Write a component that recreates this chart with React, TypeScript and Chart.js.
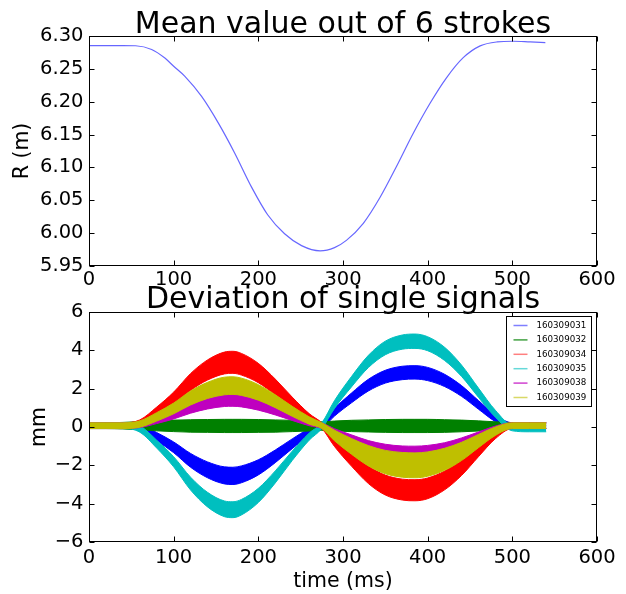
import React, { useEffect, useRef } from "react";
import { Chart, registerables } from "chart.js";
Chart.register(...registerables);

const FONT = "'DejaVu Sans', sans-serif";

// ---- top panel: mean value ----
const meanTime = [0, 20, 40, 55, 74, 90, 100, 113, 133, 153, 172, 192, 211, 231, 251, 273, 290, 304, 324, 344, 363, 383, 403, 422, 442, 462, 482, 501, 521, 539];
const meanR = [6.2855, 6.2855, 6.2855, 6.2852, 6.2795, 6.266, 6.254, 6.239, 6.208, 6.167, 6.122, 6.07, 6.028, 5.999, 5.981, 5.973, 5.978, 5.989, 6.015, 6.055, 6.101, 6.152, 6.198, 6.236, 6.267, 6.285, 6.291, 6.292, 6.291, 6.29];
const meanTicks = [5.95, 6.0, 6.05, 6.1, 6.15, 6.2, 6.25, 6.3];

// ---- bottom panel: deviations (envelopes of each signal band) ----
const devTime = [0, 20, 40, 60, 80, 100, 120, 140, 160, 170, 180, 200, 220, 240, 260, 275, 290, 310, 330, 350, 370, 385, 400, 420, 440, 460, 480, 500, 520, 540];
const blueLow = [-0.08, -0.08, -0.08, -0.2, -0.72, -1.34, -2.1, -2.65, -2.97, -3.0, -2.91, -2.5, -1.86, -1.13, -0.46, -0.08, 0.57, 1.26, 1.88, 2.29, 2.47, 2.5, 2.42, 2.11, 1.6, 0.93, 0.28, -0.08, -0.08, -0.08];
const blueHigh = [0.22, 0.22, 0.22, 0.13, -0.29, -0.78, -1.38, -1.82, -2.08, -2.1, -2.03, -1.71, -1.2, -0.62, -0.08, 0.22, 0.97, 1.77, 2.49, 2.96, 3.17, 3.2, 3.11, 2.75, 2.16, 1.38, 0.64, 0.22, 0.22, 0.22];
const greenLow = [-0.08, -0.08, -0.1, -0.14, -0.2, -0.24, -0.27, -0.28, -0.29, -0.29, -0.29, -0.28, -0.27, -0.24, -0.21, -0.17, -0.21, -0.24, -0.26, -0.28, -0.29, -0.29, -0.29, -0.28, -0.25, -0.21, -0.15, -0.1, -0.08, -0.08];
const greenHigh = [0.22, 0.22, 0.24, 0.28, 0.33, 0.36, 0.38, 0.39, 0.4, 0.4, 0.4, 0.39, 0.37, 0.35, 0.31, 0.27, 0.31, 0.35, 0.37, 0.39, 0.4, 0.4, 0.4, 0.38, 0.36, 0.32, 0.27, 0.23, 0.22, 0.22];
const redLow = [-0.08, -0.08, -0.08, 0.04, 0.55, 1.16, 1.91, 2.45, 2.77, 2.8, 2.71, 2.31, 1.68, 0.96, 0.29, -0.08, -1.02, -2.04, -2.95, -3.55, -3.81, -3.85, -3.74, -3.28, -2.53, -1.55, -0.61, -0.08, -0.08, -0.08];
const redHigh = [0.22, 0.22, 0.22, 0.37, 1.04, 1.82, 2.79, 3.5, 3.91, 3.95, 3.84, 3.32, 2.5, 1.56, 0.7, 0.22, -0.52, -1.32, -2.04, -2.51, -2.72, -2.75, -2.66, -2.3, -1.71, -0.94, -0.2, 0.22, 0.22, 0.22];
const cyanLow = [-0.08, -0.08, -0.08, -0.27, -1.1, -2.08, -3.29, -4.17, -4.68, -4.73, -4.59, -3.94, -2.92, -1.75, -0.69, -0.08, 0.97, 2.09, 3.1, 3.77, 4.06, 4.1, 3.98, 3.47, 2.64, 1.55, 0.51, -0.2, -0.25, -0.25];
const cyanHigh = [0.22, 0.22, 0.22, 0.06, -0.69, -1.55, -2.62, -3.41, -3.86, -3.9, -3.78, -3.2, -2.29, -1.26, -0.32, 0.22, 1.38, 2.63, 3.74, 4.48, 4.8, 4.85, 4.71, 4.16, 3.23, 2.03, 0.87, 0.1, 0.08, 0.08];
const magentaLow = [-0.08, -0.08, -0.08, -0.03, 0.18, 0.42, 0.72, 0.94, 1.07, 1.08, 1.05, 0.88, 0.63, 0.34, 0.07, -0.08, -0.51, -0.97, -1.39, -1.66, -1.78, -1.8, -1.75, -1.54, -1.2, -0.75, -0.32, -0.08, -0.08, -0.08];
const magentaHigh = [0.22, 0.22, 0.22, 0.28, 0.56, 0.89, 1.3, 1.59, 1.76, 1.78, 1.73, 1.51, 1.17, 0.78, 0.42, 0.22, -0.09, -0.41, -0.71, -0.9, -0.99, -1.0, -0.96, -0.82, -0.57, -0.26, 0.05, 0.22, 0.22, 0.22];
const yellowLow = [-0.08, -0.08, -0.08, -0.01, 0.31, 0.69, 1.15, 1.49, 1.68, 1.7, 1.65, 1.4, 1.01, 0.56, 0.15, -0.08, -0.72, -1.42, -2.03, -2.44, -2.62, -2.65, -2.57, -2.26, -1.75, -1.08, -0.44, -0.08, -0.08, -0.08];
const yellowHigh = [0.22, 0.22, 0.22, 0.32, 0.75, 1.25, 1.88, 2.33, 2.6, 2.62, 2.55, 2.21, 1.68, 1.08, 0.53, 0.22, -0.17, -0.6, -0.97, -1.22, -1.33, -1.35, -1.3, -1.11, -0.8, -0.39, 0.0, 0.22, 0.22, 0.22];

const seriesNames = ["160309031", "160309032", "160309034", "160309035", "160309038", "160309039"];
const seriesColors = ["#0000ff", "#008000", "#ff0000", "#00bfbf", "#bf00bf", "#bfbf00"];
const legendColors = ["rgba(0,0,255,0.5)", "rgba(0,128,0,0.75)", "rgba(255,0,0,0.5)", "rgba(0,191,191,0.6)", "rgba(191,0,191,0.75)", "rgba(191,191,0,0.6)"];
const bandLows = [blueLow, greenLow, redLow, cyanLow, magentaLow, yellowLow];
const bandHighs = [blueHigh, greenHigh, redHigh, cyanHigh, magentaHigh, yellowHigh];
const devTicks = [-6, -4, -2, 0, 2, 4, 6];
const timeTicks = [0, 100, 200, 300, 400, 500, 600];

const pts = (xs: number[], ys: number[]) => xs.map((x, i) => ({ x, y: ys[i] }));

const framePlugin = {
  id: "frameTicks",
  afterDatasetsDraw(chart: any) {
    const { ctx, chartArea: a, scales } = chart;
    const L = Math.round(a.left) + 0.5;
    const R = Math.round(a.right) - 0.5;
    const T = Math.round(a.top) + 0.5;
    const B = Math.round(a.bottom) - 0.5;
    const len = 5;
    ctx.save();
    ctx.strokeStyle = "#000";
    ctx.lineWidth = 1;
    ctx.beginPath();
    for (const t of scales.x.ticks) {
      const px = Math.round(scales.x.getPixelForValue(t.value)) + 0.5;
      ctx.moveTo(px, B);
      ctx.lineTo(px, B - len);
      ctx.moveTo(px, T);
      ctx.lineTo(px, T + len);
    }
    for (const t of scales.y.ticks) {
      const py = Math.round(scales.y.getPixelForValue(t.value)) + 0.5;
      ctx.moveTo(L, py);
      ctx.lineTo(L + len, py);
      ctx.moveTo(R, py);
      ctx.lineTo(R - len, py);
    }
    ctx.stroke();
    ctx.strokeRect(L, T, R - L, B - T);
    ctx.restore();
  },
};

const legendPlugin = {
  id: "boxLegend",
  afterDraw(chart: any) {
    const { ctx, chartArea: a } = chart;
    const w = 85;
    const h = 90;
    const x0 = Math.round(a.right - 6 - w) + 0.5;
    const y0 = Math.round(a.top + 4) + 0.5;
    ctx.save();
    ctx.fillStyle = "#fff";
    ctx.fillRect(x0, y0, w, h);
    ctx.strokeStyle = "#000";
    ctx.lineWidth = 1;
    ctx.strokeRect(x0, y0, w, h);
    ctx.font = `8.7px ${FONT}`;
    ctx.textBaseline = "middle";
    ctx.textAlign = "left";
    seriesNames.forEach((name, i) => {
      const y = y0 + 9 + i * 14.4;
      ctx.strokeStyle = legendColors[i];
      ctx.lineWidth = 1.5;
      ctx.beginPath();
      ctx.moveTo(x0 + 7, y);
      ctx.lineTo(x0 + 21, y);
      ctx.stroke();
      ctx.fillStyle = "#000";
      ctx.fillText(name, x0 + 30, y);
    });
    ctx.restore();
  },
};

function xScale(padding: number, height: number, title: string | null) {
  return {
    type: "linear",
    min: 0,
    max: 600,
    afterBuildTicks: (s: any) => {
      s.ticks = timeTicks.map((v) => ({ value: v }));
    },
    afterFit: (s: any) => {
      s.height = height;
    },
    grid: { display: false, drawTicks: false, tickLength: 0 },
    border: { display: false },
    ticks: {
      padding,
      autoSkip: false,
      maxRotation: 0,
      color: "#000",
      font: { size: 19.5, family: FONT },
    },
    title: title
      ? { display: true, text: title, color: "#000", font: { size: 20.5, family: FONT }, padding: { top: 0, bottom: 0 } }
      : { display: false },
  };
}

function yScale(min: number, max: number, tickVals: number[], fmt: (v: number) => string, title: string, titlePad: number) {
  return {
    type: "linear",
    min,
    max,
    afterBuildTicks: (s: any) => {
      s.ticks = tickVals.map((v) => ({ value: v }));
    },
    afterFit: (s: any) => {
      s.width = 89;
    },
    grid: { display: false, drawTicks: false, tickLength: 0 },
    border: { display: false },
    ticks: {
      padding: 5.5,
      autoSkip: false,
      color: "#000",
      font: { size: 19.5, family: FONT },
      callback: (v: any) => fmt(Number(v)),
    },
    title: { display: true, text: title, color: "#000", font: { size: 20.5, family: FONT }, padding: { top: titlePad, bottom: 0 } },
  };
}

export default function App() {
  const topRef = useRef<HTMLCanvasElement>(null);
  const botRef = useRef<HTMLCanvasElement>(null);

  useEffect(() => {
    Chart.defaults.font.family = FONT;
    Chart.defaults.color = "#000";

    const top = new Chart(topRef.current as HTMLCanvasElement, {
      type: "line",
      data: {
        datasets: [
          {
            data: pts(meanTime, meanR),
            borderColor: "rgba(0,0,255,0.6)",
            borderWidth: 1.2,
            pointRadius: 0,
            fill: false,
            cubicInterpolationMode: "monotone",
          },
        ],
      },
      options: {
        animation: false,
        responsive: false,
        devicePixelRatio: 1,
        events: [],
        layout: { padding: { left: 0, right: 29, top: 0, bottom: 0 } },
        plugins: {
          legend: { display: false },
          tooltip: { enabled: false },
          title: {
            display: true,
            fullSize: false,
            text: "Mean value out of 6 strokes",
            color: "#000",
            font: { size: 30, weight: "normal", family: FONT },
            padding: { top: 7.5, bottom: -7.5 },
          },
        },
        scales: {
          x: xScale(2, 31, null),
          y: yScale(5.95, 6.3, meanTicks, (v) => v.toFixed(2), "R (m)", 10.2),
        },
      } as any,
      plugins: [framePlugin],
    });

    const datasets: any[] = [];
    seriesNames.forEach((name, i) => {
      const common = {
        borderColor: seriesColors[i],
        backgroundColor: seriesColors[i],
        borderWidth: 1,
        pointRadius: 0,
        cubicInterpolationMode: "monotone",
        order: 10 - i,
      };
      datasets.push({ ...common, label: name, data: pts(devTime, bandHighs[i]), fill: "+1" });
      datasets.push({ ...common, label: name + "_low", data: pts(devTime, bandLows[i]), fill: false });
    });

    const bottom = new Chart(botRef.current as HTMLCanvasElement, {
      type: "line",
      data: { datasets },
      options: {
        animation: false,
        responsive: false,
        devicePixelRatio: 1,
        events: [],
        layout: { padding: { left: 0, right: 29, top: 0, bottom: 0 } },
        plugins: {
          legend: { display: false },
          tooltip: { enabled: false },
          title: {
            display: true,
            fullSize: false,
            text: "Deviation of single signals",
            color: "#000",
            font: { size: 30, weight: "normal", family: FONT },
            padding: { top: 12.5, bottom: -6.5 },
          },
        },
        scales: {
          x: xScale(3.8, 52, "time (ms)"),
          y: yScale(-6, 6, devTicks, (v) => (v < 0 ? "\u2212" + Math.abs(v) : String(v)), "mm", 27.3),
        },
      } as any,
      plugins: [framePlugin, legendPlugin],
    });

    return () => {
      top.destroy();
      bottom.destroy();
    };
  }, []);

  return (
    <div style={{ position: "absolute", left: 0, top: 0, width: 626, height: 594, background: "#fff", overflow: "hidden" }}>
      <canvas ref={topRef} width={626} height={297} style={{ position: "absolute", display: "block", left: 0, top: 0, width: 626, height: 297 }} />
      <canvas ref={botRef} width={626} height={324} style={{ position: "absolute", display: "block", left: 0, top: 270, width: 626, height: 324 }} />
    </div>
  );
}
